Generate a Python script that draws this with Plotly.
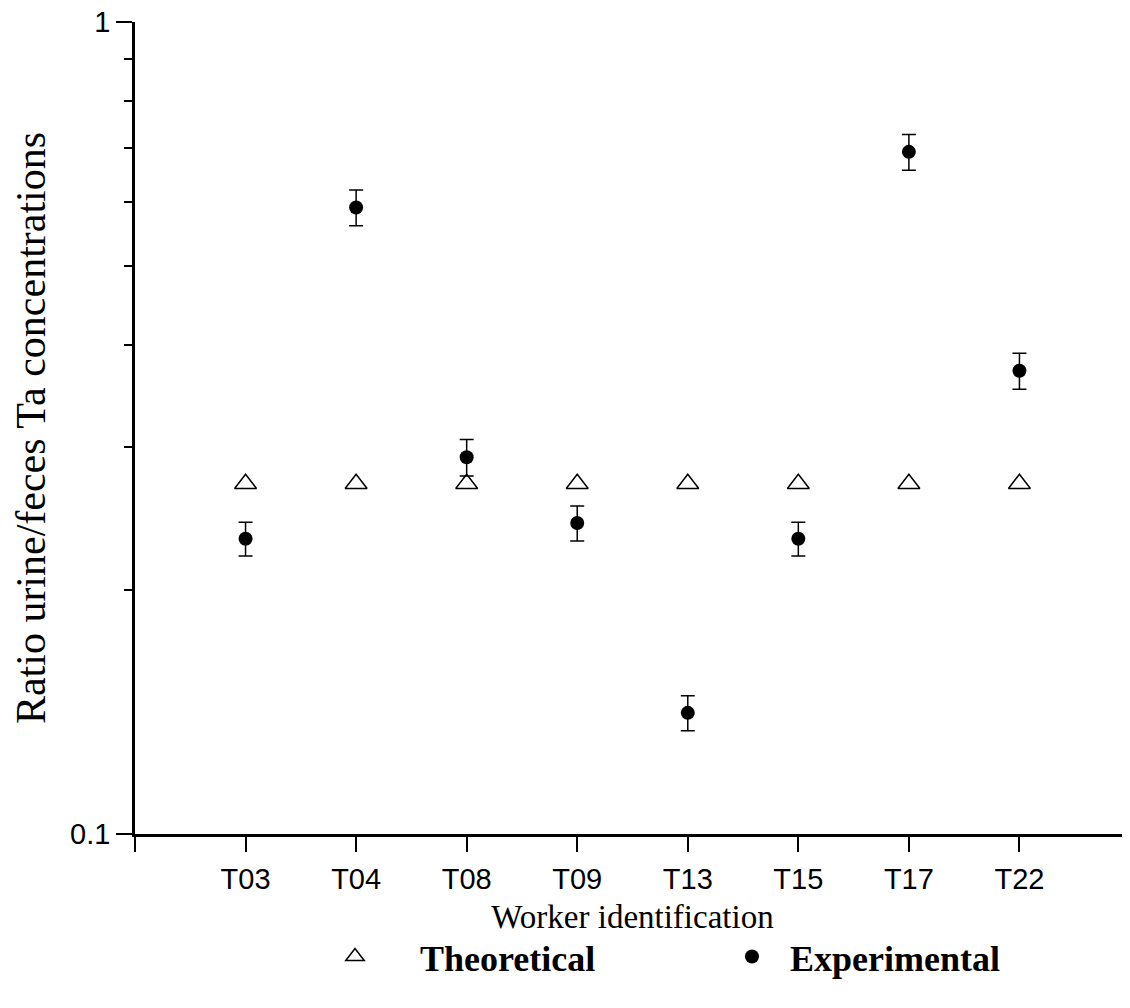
import plotly.graph_objects as go

workers = ["T03", "T04", "T08", "T09", "T13", "T15", "T17", "T22"]
theoretical = [0.270, 0.270, 0.270, 0.270, 0.270, 0.270, 0.270, 0.270]
experimental = [0.231, 0.591, 0.291, 0.2415, 0.141, 0.231, 0.692, 0.372]
exp_err = [0.011, 0.030, 0.015, 0.012, 0.007, 0.011, 0.035, 0.019]

xpos = list(range(1, len(workers) + 1))
tickpos = [0] + xpos + [len(workers) + 1]
ticktext = [""] + workers + [""]

fig = go.Figure()
fig.add_trace(go.Scatter(
    x=xpos, y=theoretical, mode="markers", name="     <b>Theoretical</b>",
    marker=dict(symbol="triangle-up-open", size=19, color="black", line=dict(width=1.5, color="black")),
    legend="legend",
))
fig.add_trace(go.Scatter(
    x=xpos, y=experimental, mode="markers", name="  <b>Experimental</b>",
    marker=dict(symbol="circle", size=14, color="black"),
    error_y=dict(type="data", array=exp_err, visible=True, color="black", thickness=1.5, width=7),
    legend="legend2",
))

fig.update_layout(
    width=1122, height=1000,
    margin=dict(l=127, r=0, t=14, b=174, autoexpand=False),
    paper_bgcolor="white", plot_bgcolor="white",
    font=dict(family="Liberation Sans, Arial", color="black", size=29),
    showlegend=True,
    legend=dict(x=0.201, y=-0.151, xanchor="left", yanchor="middle", xref="paper", yref="paper",
                font=dict(family="Liberation Serif, Times New Roman", size=36, color="black"),
                bgcolor="rgba(0,0,0,0)"),
    legend2=dict(x=0.600, y=-0.151, xanchor="left", yanchor="middle", xref="paper", yref="paper",
                 font=dict(family="Liberation Serif, Times New Roman", size=36, color="black"),
                 bgcolor="rgba(0,0,0,0)"),
    xaxis=dict(
        range=[0, len(workers) + 1], tickmode="array", tickvals=tickpos, ticktext=ticktext,
        showline=True, linecolor="black", linewidth=2.5, showgrid=False, zeroline=False,
        ticks="outside", ticklen=15, tickwidth=2, tickcolor="black",
        ticklabelstandoff=2, automargin=False,
        title=dict(text="Worker identification", standoff=12,
                   font=dict(family="Liberation Serif, Times New Roman", size=33, color="black")),
    ),
    yaxis=dict(
        type="log", range=[-1, 0], tickmode="array", tickvals=[0.1, 1], ticktext=["0.1", "1"],
        showline=True, linecolor="black", linewidth=2.5, showgrid=False, zeroline=False,
        ticks="outside", ticklen=16, tickwidth=2, tickcolor="black",
        ticklabelstandoff=0, automargin=False, ticklabeloverflow="allow",
        minor=dict(tickmode="array", tickvals=[0.2, 0.3, 0.4, 0.5, 0.6, 0.7, 0.8, 0.9],
                   ticks="outside", ticklen=8, tickwidth=2, tickcolor="black", showgrid=False),
        title=dict(text="Ratio urine/feces Ta concentrations", standoff=24,
                   font=dict(family="Liberation Serif, Times New Roman", size=42, color="black")),
    ),
)

fig.write_html("out.html")
